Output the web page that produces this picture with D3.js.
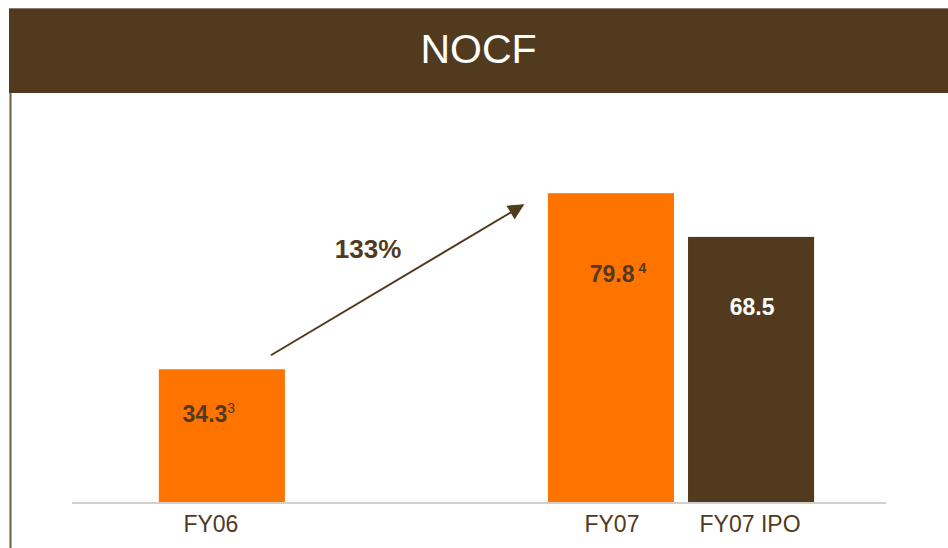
<!DOCTYPE html>
<html>
<head>
<meta charset="utf-8">
<script src="https://cdn.jsdelivr.net/npm/d3@7"></script>
<style>
  body { margin: 0; background: #fff; }
  svg { display: block; font-family: Arial, "Liberation Sans", sans-serif; }
</style>
</head>
<body>
<div id="chart"></div>
<script>
// data
let groups = ['FY06', 'FY07'];
let series = ['Actual', 'IPO'];
let barGroup  = ['FY06', 'FY07', 'FY07'];
let barSeries = ['Actual', 'Actual', 'IPO'];
let barLabels = ['FY06', 'FY07', 'FY07 IPO'];
let barValues = [34.3, 79.8, 68.5];
let valueText = ['34.3', '79.8', '68.5'];
let footnotes = ['3', ' 4', ''];
let growthText = '133%';
let title = 'NOCF';

let brown = '#523a1e',
    orange = '#ff7300',
    baseColor = '#d3cfc9';

let width = 948, height = 548;

let svg = d3.select('#chart').append('svg')
    .attr('width', width)
    .attr('height', height);

// title bar
svg.append('rect')
    .attr('x', 9).attr('y', 8)
    .attr('width', width - 9).attr('height', 85)
    .attr('fill', brown);
svg.append('line')
    .attr('x1', 9).attr('x2', width)
    .attr('y1', 8.5).attr('y2', 8.5)
    .attr('stroke', '#8c7c68').attr('stroke-width', 1);
svg.append('text')
    .attr('x', (9 + width) / 2)
    .attr('y', 63)
    .attr('text-anchor', 'middle')
    .attr('fill', '#fff')
    .attr('font-size', 41)
    .text(title);

// left frame line
svg.append('line')
    .attr('x1', 10.5).attr('x2', 10.5)
    .attr('y1', 93).attr('y2', height)
    .attr('stroke', '#6e5c46').attr('stroke-width', 2);

// scales
let x = d3.scaleBand()
    .domain(groups)
    .range([72, 886])
    .paddingInner(0.316)
    .paddingOuter(0.204)
    .align(0.547);

let xs = d3.scaleBand()
    .domain(series)
    .range([0, x.bandwidth()])
    .paddingInner(0.1);

let y = d3.scaleLinear()
    .domain([0, 100])
    .range([502, 115]);

let color = d3.scaleOrdinal()
    .domain(series)
    .range([orange, brown]);

let bars = barValues.map((v, i) => ({
    group: barGroup[i], series: barSeries[i], label: barLabels[i],
    value: v, text: valueText[i], note: footnotes[i]
}));
let bx = d => x(d.group) + xs(d.series);

// bars
svg.append('g').selectAll('rect')
    .data(bars)
    .enter()
    .append('rect')
    .attr('x', bx)
    .attr('y', d => y(d.value))
    .attr('width', xs.bandwidth())
    .attr('height', d => y(0) - y(d.value))
    .attr('fill', d => color(d.series));

// baseline
svg.append('line')
    .attr('x1', 72).attr('x2', 886)
    .attr('y1', y(0) + 1).attr('y2', y(0) + 1)
    .attr('stroke', baseColor).attr('stroke-width', 2);

// category labels
let catShift = [-11, 1, -1];
svg.append('g').selectAll('text')
    .data(bars)
    .enter()
    .append('text')
    .attr('x', (d, i) => bx(d) + xs.bandwidth() / 2 + catShift[i])
    .attr('y', 532)
    .attr('text-anchor', 'middle')
    .attr('fill', brown)
    .attr('font-size', 23)
    .text(d => d.label);

// value labels (offsets from bar centre / top, as on the slide)
let labelShift = [[-13, 53], [7, 89], [1, 78]];
let vl = svg.append('g').selectAll('text')
    .data(bars)
    .enter()
    .append('text')
    .attr('x', (d, i) => bx(d) + xs.bandwidth() / 2 + labelShift[i][0])
    .attr('y', (d, i) => y(d.value) + labelShift[i][1])
    .attr('text-anchor', 'middle')
    .attr('fill', d => d.series == 'IPO' ? '#fff' : brown)
    .attr('font-size', 23)
    .attr('font-weight', 'bold');
vl.append('tspan').text(d => d.text);
vl.append('tspan')
    .attr('font-size', 14)
    .attr('font-weight', (d, i) => i == 1 ? 'bold' : 'normal')
    .attr('dy', -9)
    .style('white-space', 'pre')
    .text(d => d.note);

// growth arrow
let a = bars[0], b = bars[1];
let x0 = bx(a) + xs.bandwidth() - 14, y0 = y(a.value) - 14;
let x1 = bx(b) - 25, y1 = y(b.value) + 12;

svg.append('defs').append('marker')
    .attr('id', 'head')
    .attr('viewBox', '0 0 10 10')
    .attr('refX', 9).attr('refY', 5)
    .attr('markerWidth', 9).attr('markerHeight', 8)
    .attr('markerUnits', 'strokeWidth')
    .attr('orient', 'auto')
    .append('path')
    .attr('d', 'M0,0L10,5L0,10Z')
    .attr('fill', brown);

svg.append('line')
    .attr('x1', x0).attr('y1', y0)
    .attr('x2', x1).attr('y2', y1)
    .attr('stroke', brown)
    .attr('stroke-width', 2)
    .attr('marker-end', 'url(#head)');

svg.append('text')
    .attr('x', 368)
    .attr('y', 258)
    .attr('text-anchor', 'middle')
    .attr('fill', brown)
    .attr('font-size', 26)
    .attr('font-weight', 'bold')
    .text(growthText);
</script>
</body>
</html>
